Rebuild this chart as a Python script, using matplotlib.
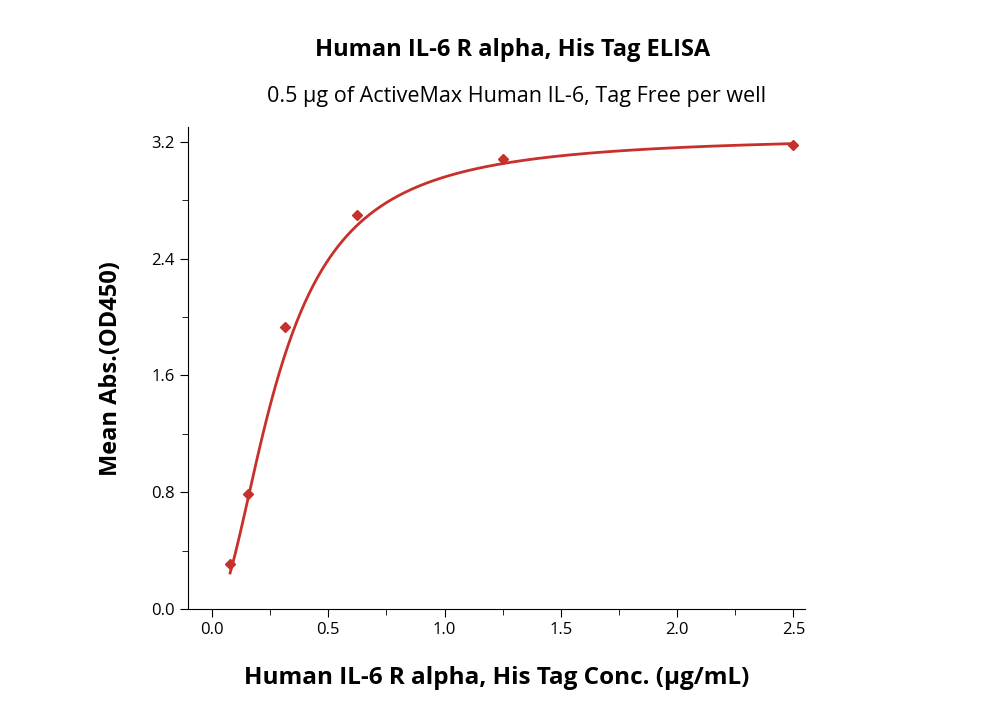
import numpy as np
import matplotlib.pyplot as plt

conc = [0.078, 0.156, 0.3125, 0.625, 1.25, 2.5]
absorb = [0.31, 0.79, 1.93, 2.70, 3.08, 3.18]

# four-parameter logistic fit parameters (bottom, top, EC50, hill)
fit_bottom, fit_top, fit_ec50, fit_hill = 0.0, 3.24, 0.29, 1.9

red = '#c8302c'
plt.rcParams['font.family'] = ['Open Sans', 'DejaVu Sans']

fig = plt.figure(figsize=(10, 7.14), dpi=100)
ax = fig.add_axes([0.188, 0.147, 0.617, 0.675])

xs = np.linspace(conc[0], conc[-1], 400)
ys = fit_bottom + (fit_top - fit_bottom) * (xs / fit_ec50) ** fit_hill / (1 + (xs / fit_ec50) ** fit_hill)
ax.plot(xs, ys, color=red, lw=2)
ax.plot(conc, absorb, 'D', color=red, ms=5)

ax.set_xlim(-0.103, 2.55)
ax.set_ylim(0, 3.3)
ax.set_xticks([0, 0.5, 1.0, 1.5, 2.0, 2.5])
ax.set_xticks(np.arange(0.25, 2.5, 0.5), minor=True)
ax.set_yticks([0, 0.8, 1.6, 2.4, 3.2])
ax.set_yticks(np.arange(0.4, 3.3, 0.8), minor=True)
for s in ['top', 'right']:
    ax.spines[s].set_visible(False)
ax.tick_params(labelsize=12, direction='out', length=6)
ax.tick_params(which='minor', length=4)

ax.set_xlabel('Human IL-6 R alpha, His Tag Conc. (μg/mL)', fontsize=17.5, fontweight='bold', labelpad=20)
ax.set_ylabel('Mean Abs.(OD450)', fontsize=17, fontweight='bold', labelpad=20)
fig.text(0.513, 0.922, 'Human IL-6 R alpha, His Tag ELISA', ha='center', fontsize=17, fontweight='bold')
fig.text(0.517, 0.857, '0.5 μg of ActiveMax Human IL-6, Tag Free per well', ha='center', fontsize=15.5)

fig.savefig('out.png', dpi=100)
